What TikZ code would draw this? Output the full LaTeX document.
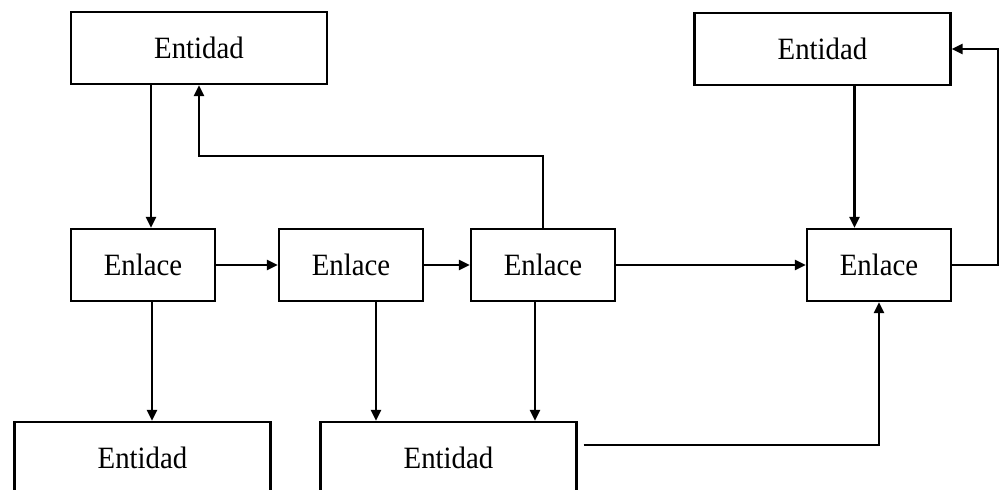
\documentclass[tikz,border=0pt]{standalone}
\usepackage{fontspec}
\usepackage{graphicx}
\setmainfont{Liberation Serif}
\usetikzlibrary{arrows.meta}
\newcommand\boxtext[1]{\scalebox{0.93}[1]{#1}}
\tikzset{
  ent/.style={draw, line width=2.3pt, minimum width=256pt, minimum height=72pt, inner sep=0pt,
    font=\fontsize{31}{31}\selectfont},
  enl/.style={draw, line width=2.3pt, minimum width=144pt, minimum height=72pt, inner sep=0pt,
    font=\fontsize{31}{31}\selectfont},
  arr/.style={line width=2.3pt, -{Triangle[length=11pt,width=10pt]}},
  ln/.style={line width=2.3pt}
}
\begin{document}
\begin{tikzpicture}[x=1pt,y=-1pt]
\useasboundingbox (0,0) rectangle (999,490);
\clip (0,0) rectangle (999,490);
\node[ent] (E1) at (199,48) {\boxtext{Entidad}};
\node[ent] (E2) at (822.5,49) {\boxtext{Entidad}};
\node[enl] (L1) at (143,265) {\boxtext{Enlace}};
\node[enl] (L2) at (351,265) {\boxtext{Enlace}};
\node[enl] (L3) at (543,265) {\boxtext{Enlace}};
\node[enl] (L4) at (879,265) {\boxtext{Enlace}};
\node[ent] (B1) at (142.5,458) {\boxtext{Entidad}};
\node[ent] (B2) at (448.5,458) {\boxtext{Entidad}};
\draw[arr] ([xshift=-48pt]E1.south) -- ([xshift=-48pt]E1.south |- L1.north);
\draw[arr] (L1) -- (L2);
\draw[arr] (L2) -- (L3);
\draw[arr] (L3) -- (L4);
\draw[arr] ([xshift=9pt]L1.south) -- ([xshift=9pt]L1.south |- B1.north);
\draw[arr] ([xshift=25pt]L2.south) -- ([xshift=25pt]L2.south |- B2.north);
\draw[arr] ([xshift=-8pt]L3.south) -- ([xshift=-8pt]L3.south |- B2.north);
\draw[arr] (L3.north) -- ++(0,-72) -| (E1.south);
\draw[arr] ([xshift=32pt]E2.south) -- ([xshift=32pt]E2.south |- L4.north);
\draw[arr] (L4.east) -- ++(46,0) |- (E2.east);
\draw[arr] ([xshift=6pt,yshift=13pt]B2.east) -| (L4.south);
\end{tikzpicture}
\end{document}
